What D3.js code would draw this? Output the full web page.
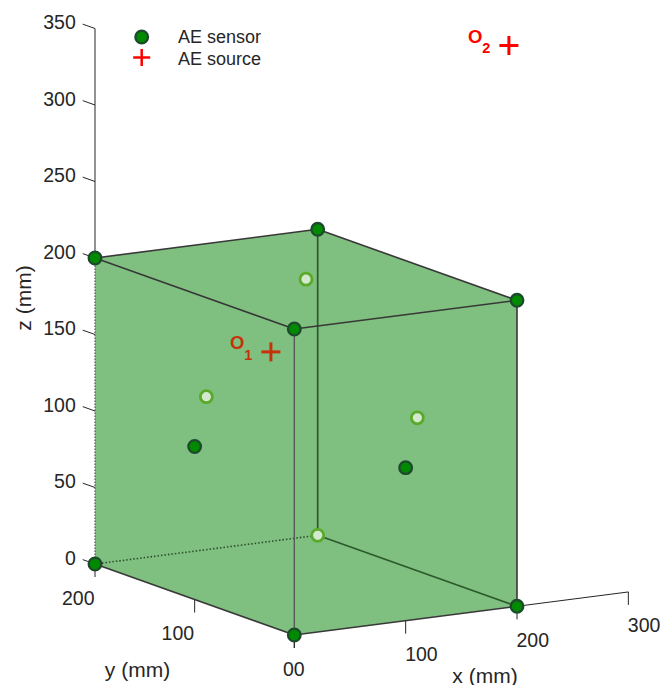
<!DOCTYPE html>
<html>
<head>
<meta charset="utf-8">
<script src="https://cdn.jsdelivr.net/npm/d3@7"></script>
<style>
  body { margin: 0; background: #fff; }
  text { font-family: "Liberation Sans", Arial, sans-serif; fill: #262626; }
</style>
</head>
<body>
<div class="canva"></div>
<script>
var width = 663;
var height = 685;

// data
const cubeSize = 200;
const xTicks = [0, 100, 200, 300];
const yTicks = [0, 100, 200];
const zTicks = [0, 50, 100, 150, 200, 250, 300, 350];
// sensors seen in front of the faces
const sensorsFront = [[0,0,0], [200,0,0], [0,200,0], [0,0,200], [200,0,200], [0,200,200], [200,200,200], [0,100,100], [100,0,100]];
// sensors behind the faces
const sensorsBack = [[200,200,0], [100,200,100], [200,100,100], [100,100,200]];
const sourceNames = ['1', '2'];
const sourcePoints = [[81,114,151], [250,64,347]];
const sourceColors = ['#c8320a', '#ff0000'];

const svg = d3.select('.canva').append('svg')
            .attr('width', width)
            .attr('height', height);

// oblique view: each axis maps to a 2d offset
const origin = [294.3, 635];
const xs = d3.scaleLinear().domain([0, 200]).range([[0, 0], [222.7, -28.7]]);
const ys = d3.scaleLinear().domain([0, 200]).range([[0, 0], [-199.3, -71]]);
const zs = d3.scaleLinear().domain([0, 350]).range([[0, 0], [0, -535.5]]);

function proj(p) {
  const a = xs(p[0]), b = ys(p[1]), c = zs(p[2]);
  return [origin[0] + a[0] + b[0] + c[0], origin[1] + a[1] + b[1] + c[1]];
}
const line = d3.line();

const s = cubeSize;
// cube outline (silhouette)
const hull = [[0,0,0], [s,0,0], [s,0,s], [s,s,s], [0,s,s], [0,s,0]].map(proj);
svg.append('path')
   .attr('d', line(hull) + 'Z')
   .attr('fill', '#7fbf7f');

// edges behind
svg.append('path').attr('d', line([[0,s,0], [s,s,0]].map(proj)))
   .attr('stroke', '#2f4f2f').attr('stroke-width', 1.6).attr('stroke-dasharray', '1.5,2').attr('fill', 'none');
svg.append('path').attr('d', line([[0,s,0], [0,s,s]].map(proj)))
   .attr('stroke', '#555').attr('stroke-width', 1.2).attr('stroke-dasharray', '1.5,1.5').attr('fill', 'none');
[[[s,s,0], [s,s,s]], [[s,s,0], [s,0,0]]].forEach(e => {
  svg.append('path').attr('d', line(e.map(proj)))
     .attr('stroke', '#2c5a2c').attr('stroke-width', 1.7).attr('fill', 'none');
});

// axes
const axisCol = '#262626';
svg.append('path').attr('d', line([[0,s,s], [0,s,350]].map(proj)))
   .attr('stroke', axisCol).attr('stroke-width', 1);
svg.append('path').attr('d', line([[s,0,0], [300,0,0]].map(proj)))
   .attr('stroke', axisCol).attr('stroke-width', 1);

zTicks.forEach(t => {
  const a = proj([0, s, t]), b = proj([0, s + 12.3, t]);
  svg.append('line').attr('x1', a[0]).attr('y1', a[1]).attr('x2', b[0]).attr('y2', b[1])
     .attr('stroke', axisCol).attr('stroke-width', 1);
  svg.append('text').attr('x', b[0] - 7).attr('y', b[1] - 2)
     .attr('text-anchor', 'end').attr('dominant-baseline', 'central')
     .attr('font-size', 19.5).text(t);
});
xTicks.forEach(t => {
  const a = proj([t, 0, 0]);
  svg.append('line').attr('x1', a[0]).attr('y1', a[1]).attr('x2', a[0]).attr('y2', a[1] + 13)
     .attr('stroke', axisCol).attr('stroke-width', 1);
  svg.append('text').attr('x', a[0] - 0.5).attr('y', a[1] + 33.5)
     .attr('text-anchor', 'start').attr('dominant-baseline', 'central')
     .attr('font-size', 19.5).text(t);
});
yTicks.forEach(t => {
  const a = proj([0, t, 0]);
  svg.append('line').attr('x1', a[0]).attr('y1', a[1]).attr('x2', a[0]).attr('y2', a[1] + 13)
     .attr('stroke', axisCol).attr('stroke-width', 1);
  svg.append('text').attr('x', a[0] - 0.5).attr('y', a[1] + 33.5)
     .attr('text-anchor', 'end').attr('dominant-baseline', 'central')
     .attr('font-size', 19.5).text(t);
});

svg.append('text').attr('transform', 'translate(23,298) rotate(-90)')
   .attr('text-anchor', 'middle').attr('dominant-baseline', 'central')
   .attr('font-size', 21).text('z (mm)');
svg.append('text').attr('x', 137.5).attr('y', 669)
   .attr('text-anchor', 'middle').attr('dominant-baseline', 'central')
   .attr('font-size', 21).text('y (mm)');
svg.append('text').attr('x', 485).attr('y', 675)
   .attr('text-anchor', 'middle').attr('dominant-baseline', 'central')
   .attr('font-size', 21).text('x (mm)');

// hidden sensors
svg.selectAll('circle.back').data(sensorsBack).enter().append('circle')
   .attr('class', 'back')
   .attr('cx', d => proj(d)[0]).attr('cy', d => proj(d)[1])
   .attr('r', 6)
   .attr('fill', '#d4e8cf').attr('stroke', '#5aaa2a').attr('stroke-width', 2.8);

// front edges
svg.append('path').attr('d', line([[0,0,0], [0,0,s]].map(proj)))
   .attr('stroke', '#555').attr('stroke-width', 1.3).attr('fill', 'none');
const frontEdges = [
  [[0,0,0], [s,0,0]], [[0,0,0], [0,s,0]], [[s,0,0], [s,0,s]],
  [[0,0,s], [s,0,s]], [[s,0,s], [s,s,s]], [[s,s,s], [0,s,s]], [[0,s,s], [0,0,s]]
];
frontEdges.forEach(e => {
  svg.append('path').attr('d', line(e.map(proj)))
     .attr('stroke', '#383838').attr('stroke-width', 1.6).attr('fill', 'none');
});

// sources
function cross(g, c, half, col, w) {
  g.append('line').attr('x1', c[0] - half).attr('y1', c[1]).attr('x2', c[0] + half).attr('y2', c[1])
   .attr('stroke', col).attr('stroke-width', w);
  g.append('line').attr('x1', c[0]).attr('y1', c[1] - half).attr('x2', c[0]).attr('y2', c[1] + half)
   .attr('stroke', col).attr('stroke-width', w);
}
sourcePoints.forEach((p, i) => {
  const c = proj(p);
  cross(svg, c, 9.5, sourceColors[i], 3);
  const t = svg.append('text').attr('x', c[0] - 41).attr('y', c[1] - 2.5)
     .attr('font-size', 18.5).attr('font-weight', 'bold')
     .style('fill', sourceColors[i]);
  t.append('tspan').text('O');
  t.append('tspan').attr('dy', 10.5).attr('font-size', 14.5).text(sourceNames[i]);
});

// visible sensors
svg.selectAll('circle.front').data(sensorsFront).enter().append('circle')
   .attr('class', 'front')
   .attr('cx', d => proj(d)[0]).attr('cy', d => proj(d)[1])
   .attr('r', 6.3)
   .attr('fill', '#008a00').attr('stroke', '#1d4a2c').attr('stroke-width', 2.3);

// legend
const lg = svg.append('g');
lg.append('circle').attr('cx', 141.7).attr('cy', 37).attr('r', 6.3)
  .attr('fill', '#008a00').attr('stroke', '#1d4a2c').attr('stroke-width', 2.3);
cross(lg, [141.7, 57.5], 8.5, '#ff0000', 2.5);
lg.append('text').attr('x', 178).attr('y', 37).attr('dominant-baseline', 'central')
  .attr('font-size', 18).text('AE sensor');
lg.append('text').attr('x', 178).attr('y', 58.5).attr('dominant-baseline', 'central')
  .attr('font-size', 18).text('AE source');
</script>
</body>
</html>
